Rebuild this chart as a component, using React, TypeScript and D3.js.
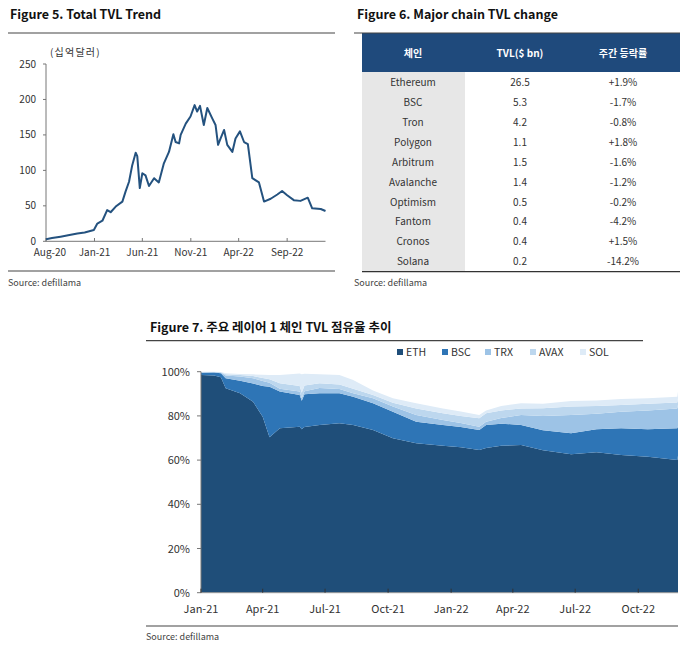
import React from "react";
import * as d3 from "d3";

// ---------- Figure 5 data ----------
const tvlDates = [
  "2020-08-01","2020-08-20","2020-09-16","2020-10-10","2020-11-08","2020-12-01","2020-12-30",
  "2021-01-10","2021-01-26","2021-02-10","2021-02-21","2021-03-09","2021-03-30","2021-04-09",
  "2021-04-20","2021-04-30","2021-05-11","2021-05-16","2021-05-24","2021-06-01","2021-06-11",
  "2021-06-22","2021-07-08","2021-07-23","2021-08-08","2021-08-24","2021-09-07","2021-09-14",
  "2021-09-25","2021-09-30","2021-10-16","2021-10-31","2021-11-13","2021-11-21","2021-11-30",
  "2021-12-12","2021-12-23","2022-01-08","2022-01-18","2022-01-26","2022-02-03","2022-02-14",
  "2022-02-24","2022-03-12","2022-03-22","2022-04-05","2022-04-18","2022-04-30","2022-05-14",
  "2022-06-04","2022-06-20","2022-07-11","2022-08-01","2022-08-16","2022-09-01","2022-09-22",
  "2022-10-13","2022-11-05","2022-11-19","2022-12-16","2022-12-31",
];
const tvlValues = [
  3, 4.5, 6.5, 8.5, 11, 12.5, 16,
  25, 29, 44, 41, 49, 56, 70,
  84, 107, 125, 120, 75, 96, 93,
  78, 89, 83, 110, 126, 151, 140,
  138, 150, 166, 176, 192, 183, 191,
  164, 188, 173, 164, 136, 145, 157,
  136, 126, 145, 155, 140, 137, 89,
  83, 56, 60, 66, 71, 65, 58,
  57, 61.5, 46.5, 45.5, 42.7,
];
const tvlXTicks = ["2020-08-01","2021-01-01","2021-06-01","2021-11-01","2022-04-01","2022-09-01"];
const tvlYTicks = [0, 50, 100, 150, 200, 250];

// ---------- Figure 6 data ----------
const tableHeaders = ["체인", "TVL($ bn)", "주간 등락률"];
const chainNames = ["Ethereum","BSC","Tron","Polygon","Arbitrum","Avalanche","Optimism","Fantom","Cronos","Solana"];
const chainTVL = ["26.5","5.3","4.2","1.1","1.5","1.4","0.5","0.4","0.4","0.2"];
const chainChange = ["+1.9%","-1.7%","-0.8%","+1.8%","-1.6%","-1.2%","-0.2%","-4.2%","+1.5%","-14.2%"];

// ---------- Figure 7 data ----------
const shareDates = [
  "2021-01-01","2021-01-20","2021-01-30","2021-02-06","2021-02-27","2021-03-18","2021-04-01",
  "2021-04-11","2021-04-26","2021-05-25","2021-05-28","2021-06-01","2021-06-23","2021-07-22",
  "2021-08-11","2021-09-09","2021-10-08","2021-11-11","2021-12-20","2022-01-15","2022-02-11",
  "2022-02-21","2022-03-15","2022-04-13","2022-05-15","2022-06-25","2022-08-01","2022-09-06",
  "2022-10-15","2022-11-27","2022-11-28",
];
const ethShare = [98.5,98.3,97.5,92.5,90.2,86.4,79.6,70.3,74.4,75.1,74.0,75.0,75.9,76.7,75.9,73.6,69.9,67.6,66.5,65.8,64.6,65.5,66.5,66.8,64.5,62.6,63.5,62.3,61.5,60.0,62.0];
const bscShare = [1.0,1.3,1.8,4.5,5.7,8.3,13.9,22.9,16.6,14.4,12.8,14.8,14.3,13.5,12.8,12.1,12.0,9.8,9.4,9.2,9.0,10.4,10.0,9.1,9.0,9.5,10.5,12.1,12.5,14.4,13.5];
const trxShare = [0.2,0.2,0.3,1.3,1.9,2.3,2.3,1.8,1.3,1.5,1.2,1.4,2.4,2.0,1.5,2.3,2.3,3.0,2.2,1.8,1.5,1.5,2.5,4.5,6.5,8.3,7.0,7.5,8.5,9.0,9.5];
const avaxShare = [0.1,0.1,0.2,0.5,0.7,1.0,1.4,1.6,2.5,2.5,2.5,2.6,2.2,2.0,2.1,1.5,1.8,3.0,3.1,3.2,3.8,3.8,3.5,3.0,3.5,3.8,3.5,3.0,3.0,2.7,3.0];
const solShare = [0.2,0.1,0.1,0.5,0.5,0.8,1.4,1.9,3.7,5.7,8.3,5.3,4.1,4.3,3.9,2.0,2.0,2.3,2.2,2.0,1.5,1.3,2.0,2.3,2.0,2.5,2.5,2.7,2.5,2.6,3.0];
const shareKeys = ["ETH","BSC","TRX","AVAX","SOL"];
const shareColors = ["#1F4E79","#2E75B6","#9DC3E6","#BDD7EE","#DEEBF7"];
const shareXTicks = ["2021-01-01","2021-04-01","2021-07-01","2021-10-01","2022-01-01","2022-04-01","2022-07-01","2022-10-01"];
const shareYTicks = [0, 20, 40, 60, 80, 100];

const FONT = "'Noto Sans CJK KR', 'Noto Sans', sans-serif";
const parse = d3.timeParse("%Y-%m-%d");
const fmtMonth = d3.timeFormat("%b-%y");

function Figure5() {
  const x = d3.scaleTime().domain([parse("2020-08-01")!, parse("2022-12-31")!]).range([46, 325.5]);
  const y = d3.scaleLinear().domain([0, 250]).range([241.3, 64]);
  const pts = tvlDates.map((d, i) => [parse(d)!, tvlValues[i]] as [Date, number]);
  const line = d3.line<[Date, number]>().x((d) => x(d[0])).y((d) => y(d[1]));
  return (
    <g>
      <text x={10} y={19} fontFamily={FONT} fontWeight={700} fontSize={12.5} fill="#111">Figure 5. Total TVL Trend</text>
      <line x1={8} x2={335} y1={33} y2={33} stroke="#444" strokeWidth={1.2} />
      <text x={50} y={56} fontFamily={FONT} fontSize={10} letterSpacing={1.2} fill="#333">(십억달러)</text>
      <line x1={46} x2={46} y1={64} y2={241.3} stroke="#777" strokeWidth={1} />
      <line x1={46} x2={325.5} y1={241.3} y2={241.3} stroke="#777" strokeWidth={1} />
      {tvlYTicks.map((t) => (
        <g key={t}>
          <line x1={43} x2={46} y1={y(t)} y2={y(t)} stroke="#777" />
          <text x={36} y={y(t) + 3.5} textAnchor="end" fontFamily={FONT} fontSize={10} fill="#333">{t}</text>
        </g>
      ))}
      {tvlXTicks.map((t) => {
        const d = parse(t)!;
        return (
          <g key={t}>
            <line x1={x(d)} x2={x(d)} y1={238} y2={241.3} stroke="#777" />
            <text x={x(d) + (t === "2020-08-01" ? 4 : 0)} y={256} textAnchor="middle" fontFamily={FONT} fontSize={10} fill="#333">{fmtMonth(d)}</text>
          </g>
        );
      })}
      <path d={line(pts)!} fill="none" stroke="#24527F" strokeWidth={2} strokeLinejoin="round" />
      <line x1={8} x2={335} y1={271} y2={271} stroke="#444" strokeWidth={1.2} />
      <text x={8} y={286} fontFamily={FONT} fontSize={9} fill="#444">Source: defillama</text>
    </g>
  );
}

function Figure6() {
  const colX = [413, 520, 623];
  const rowY = d3.scaleLinear().domain([0, 9]).range([82.7, 261.7]);
  return (
    <g>
      <text x={357} y={19} fontFamily={FONT} fontWeight={700} fontSize={12.5} fill="#111">Figure 6. Major chain TVL change</text>
      <rect x={362} y={33} width={318} height={39} fill="#1F4A7C" />
      <line x1={354} x2={680} y1={33} y2={33} stroke="#444" strokeWidth={1.2} />
      {tableHeaders.map((h, i) => (
        <text key={h} x={colX[i]} y={56.5} textAnchor="middle" fontFamily={FONT} fontWeight={700} fontSize={10} fill="#fff">{h}</text>
      ))}
      <rect x={362} y={72} width={103} height={199.7} fill="#E7E7E7" />
      {chainNames.map((n, i) => (
        <g key={n}>
          <text x={colX[0]} y={rowY(i) + 3.5} textAnchor="middle" fontFamily={FONT} fontSize={10} fill="#333">{n}</text>
          <text x={colX[1]} y={rowY(i) + 3.5} textAnchor="middle" fontFamily={FONT} fontSize={10} fill="#333">{chainTVL[i]}</text>
          <text x={colX[2]} y={rowY(i) + 3.5} textAnchor="middle" fontFamily={FONT} fontSize={10} fill="#333">{chainChange[i]}</text>
        </g>
      ))}
      <line x1={362} x2={680} y1={271.7} y2={271.7} stroke="#333" strokeWidth={1.2} />
      <text x={354} y={286} fontFamily={FONT} fontSize={9} fill="#444">Source: defillama</text>
    </g>
  );
}

function Figure7() {
  const x = d3.scaleTime().domain([parse("2021-01-01")!, parse("2022-11-28")!]).range([201, 678]);
  const y = d3.scaleLinear().domain([0, 100]).range([592.7, 371.7]);
  const rows = shareDates.map((d, i) => ({
    date: parse(d)!,
    ETH: ethShare[i], BSC: bscShare[i], TRX: trxShare[i], AVAX: avaxShare[i], SOL: solShare[i],
  }));
  const series = d3.stack<any>().keys(shareKeys)(rows);
  const area = d3.area<any>().x((d) => x(d.data.date)).y0((d) => y(d[0])).y1((d) => y(d[1]));
  const legendX = [397, 442, 485, 530, 580];
  return (
    <g>
      <text x={150} y={332} fontFamily={FONT} fontWeight={700} fontSize={12.5} fill="#111">Figure 7. 주요 레이어 1 체인 TVL 점유율 추이</text>
      <line x1={146} x2={643} y1={340.7} y2={340.7} stroke="#444" strokeWidth={1.2} />
      {shareKeys.map((k, i) => (
        <g key={k}>
          <rect x={legendX[i]} y={349} width={6} height={6} fill={shareColors[i]} />
          <text x={legendX[i] + 9} y={356} fontFamily={FONT} fontSize={10.5} fill="#333">{k}</text>
        </g>
      ))}
      {series.map((s, i) => (
        <path key={s.key} d={area(s as any)!} fill={shareColors[i]} />
      ))}
      <line x1={201} x2={201} y1={371.7} y2={592.7} stroke="#777" />
      <line x1={201} x2={678} y1={592.7} y2={592.7} stroke="#999" />
      {shareYTicks.map((t) => (
        <g key={t}>
          <line x1={197} x2={201} y1={y(t)} y2={y(t)} stroke="#777" />
          <text x={190} y={y(t) + 4} textAnchor="end" fontFamily={FONT} fontSize={11} fill="#333">{t}%</text>
        </g>
      ))}
      {shareXTicks.map((t) => {
        const d = parse(t)!;
        return (
          <g key={t}>
            <line x1={x(d)} x2={x(d)} y1={588.7} y2={592.7} stroke="#333" />
            <text x={x(d)} y={613} textAnchor="middle" fontFamily={FONT} fontSize={11} fill="#333">{fmtMonth(d)}</text>
          </g>
        );
      })}
      <line x1={146} x2={678} y1={626} y2={626} stroke="#444" strokeWidth={1.2} />
      <text x={146} y={640} fontFamily={FONT} fontSize={9} fill="#444">Source: defillama</text>
    </g>
  );
}

export default function App() {
  return (
    <svg width={700} height={646} style={{ position: "absolute", left: 0, top: 0, background: "#fff" }}>
      <rect width={700} height={646} fill="#fff" />
      <Figure5 />
      <Figure6 />
      <Figure7 />
    </svg>
  );
}
